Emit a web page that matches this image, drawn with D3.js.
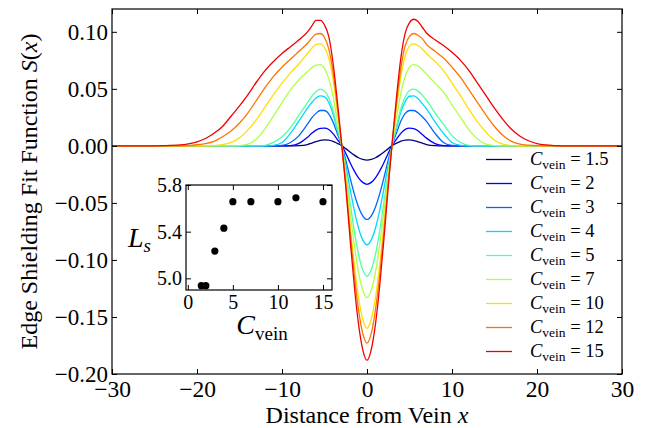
<!DOCTYPE html>
<html><head><meta charset="utf-8">
<script src="https://cdn.jsdelivr.net/npm/d3@7"></script>
<style>
html,body{margin:0;padding:0;background:#fff;}
svg{display:block;}
text{font-family:'Liberation Serif','Times New Roman',serif;fill:#000;}
</style></head>
<body>
<svg id="chart" width="647" height="428"></svg>
<script>
// ---------- data ----------
const xs = [-30,-26,-24,-22,-21,-20,-19,-18,-17,-16,-15,-14,-13,-12,-11,-10,-9,-8,
  -7,-6.5,-6,-5.5,-5,-4.5,-4,-3.5,-3,-2.5,-2,-1.5,-1,-0.5,
  0,
  0.5,1,1.5,2,2.5,3,3.5,4,4.5,5,5.5,6,6.5,7,
  8,9,10,11,12,13,14,15,16,17,18,19,20,21,22,24,26,30];

const cVein = [1.5, 2, 3, 4, 5, 7, 10, 12, 15];

const s1_5 = [0,0,0,0,0,0,0,0,0,0,0,0,0,0,0,0,0,0.0002,
  0.0012,0.0024,0.0037,0.0048,0.0053,0.0051,0.0040,0.0022,0.0003,-0.0024,-0.0054,-0.0081,-0.0104,-0.0119,
  -0.0125,
  -0.0119,-0.0104,-0.0081,-0.0054,-0.0024,0.0004,0.0024,0.0041,0.0051,0.0053,0.0047,0.0036,0.0024,0.0012,
  0.0002,0,0,0,0,0,0,0,0,0,0,0,0,0,0,0,0,0];
const s2 = [0,0,0,0,0,0,0,0,0,0,0,0,0,0,0,0,0.0003,0.0022,
  0.0075,0.0110,0.0138,0.0153,0.0155,0.0143,0.0108,0.0058,0.0006,-0.0064,-0.0145,-0.0219,-0.0280,-0.0320,
  -0.0337,
  -0.0320,-0.0280,-0.0219,-0.0145,-0.0064,0.0008,0.0062,0.0112,0.0145,0.0155,0.0151,0.0132,0.0100,0.0068,
  0.0020,0.0003,0,0,0,0,0,0,0,0,0,0,0,0,0,0,0,0];
const s3 = [0,0,0,0,0,0,0,0,0,0,0,0,0,0,0,0.0004,0.003,0.009,
  0.019,0.0245,0.0285,0.031,0.031,0.028,0.021,0.011,0.001,-0.0123,-0.0277,-0.0419,-0.0535,-0.0613,
  -0.0645,
  -0.0613,-0.0535,-0.0419,-0.0277,-0.0123,0.0015,0.012,0.022,0.0285,0.031,0.031,0.029,0.0255,0.0215,
  0.011,0.003,0.0004,0,0,0,0,0,0,0,0,0,0,0,0,0,0,0];
const s4 = [0,0,0,0,0,0,0,0,0,0,0,0,0,0,0.0005,0.003,0.011,0.022,
  0.033,0.038,0.042,0.0438,0.043,0.038,0.028,0.014,0.001,-0.0165,-0.0373,-0.0564,-0.0720,-0.0824,
  -0.0867,
  -0.0824,-0.0720,-0.0564,-0.0373,-0.0165,0.002,0.016,0.030,0.039,0.0435,0.0438,0.0415,0.037,0.0325,
  0.021,0.011,0.003,0.0005,0,0,0,0,0,0,0,0,0,0,0,0,0,0];
const s5 = [0,0,0,0,0,0,0,0,0,0,0,0,0,0.0005,0.003,0.008,0.016,0.027,
  0.038,0.0435,0.0475,0.0497,0.048,0.042,0.031,0.016,0.001,-0.0217,-0.0491,-0.0743,-0.0949,-0.1086,
  -0.1143,
  -0.1086,-0.0949,-0.0743,-0.0491,-0.0217,0.002,0.018,0.033,0.043,0.0485,0.0497,0.048,0.0445,0.040,
  0.029,0.019,0.009,0.003,0.0005,0,0,0,0,0,0,0,0,0,0,0,0,0];
const s7 = [0,0,0,0,0,0,0,0,0,0,0.0003,0.0015,0.006,0.015,0.026,0.038,0.049,0.058,
  0.065,0.0685,0.0708,0.0712,0.068,0.059,0.044,0.022,0.002,-0.0253,-0.0572,-0.0865,-0.1104,-0.1264,
  -0.133,
  -0.1264,-0.1104,-0.0865,-0.0572,-0.0253,0.003,0.026,0.047,0.061,0.069,0.0712,0.070,0.067,0.063,
  0.055,0.047,0.036,0.025,0.014,0.006,0.0015,0.0003,0,0,0,0,0,0,0,0,0,0];
const s10 = [0,0,0,0,0,0,0,0.0003,0.001,0.003,0.007,0.014,0.023,0.034,0.045,0.055,0.064,0.072,
  0.081,0.0855,0.089,0.0895,0.086,0.077,0.059,0.031,0.002,-0.0304,-0.0688,-0.104,-0.1328,-0.152,
  -0.160,
  -0.152,-0.1328,-0.104,-0.0688,-0.0304,0.004,0.035,0.062,0.079,0.0875,0.0895,0.088,0.085,0.081,
  0.074,0.066,0.055,0.044,0.032,0.021,0.012,0.005,0.0015,0.0003,0,0,0,0,0,0,0,0];
const s12 = [0,0,0,0,0.0003,0.001,0.002,0.004,0.008,0.013,0.020,0.029,0.040,0.051,0.061,0.069,0.076,0.083,
  0.090,0.0945,0.098,0.0985,0.095,0.085,0.065,0.035,0.003,-0.0329,-0.0744,-0.1125,-0.1436,-0.1644,
  -0.173,
  -0.1644,-0.1436,-0.1125,-0.0744,-0.0329,0.005,0.040,0.069,0.088,0.096,0.0985,0.097,0.094,0.089,
  0.083,0.077,0.069,0.060,0.049,0.038,0.027,0.017,0.009,0.004,0.0015,0.0006,0.0002,0,0,0,0,0];
const s15 = [0,0,0.0002,0.0008,0.0018,0.0035,0.0065,0.011,0.017,0.026,0.035,0.045,0.056,0.066,0.074,0.081,0.087,0.093,
  0.100,0.105,0.110,0.110,0.106,0.096,0.073,0.040,0.003,-0.0357,-0.0808,-0.1222,-0.156,-0.1786,
  -0.188,
  -0.1786,-0.156,-0.1222,-0.0808,-0.0357,0.006,0.045,0.078,0.099,0.108,0.111,0.109,0.104,0.099,
  0.093,0.088,0.082,0.075,0.066,0.055,0.044,0.033,0.023,0.0145,0.0085,0.0045,0.002,0.0008,0.0003,0,0,0];

const seriesValues = [s1_5, s2, s3, s4, s5, s7, s10, s12, s15];

const xTicks = [-30, -20, -10, 0, 10, 20, 30];
const yTicks = [-0.20, -0.15, -0.10, -0.05, 0.00, 0.05, 0.10];

// inset data
const insetC = [1.5, 2, 3, 4, 5, 7, 10, 12, 15];
const insetLs = [4.937, 4.937, 5.234, 5.43, 5.657, 5.657, 5.657, 5.69, 5.657];
const insetXTicks = [0, 5, 10, 15];
const insetYTicks = [5.0, 5.4, 5.8];

// ---------- styles ----------
const colors = ["#000080","#0000ff","#0066ff","#00d9ff","#52ffa6","#b0ff47","#ffde00","#ff7300","#f20000"];

// ---------- drawing ----------
const svg = d3.select("#chart");
const M = {left: 112, right: 622, top: 9, bottom: 374};
const x = d3.scaleLinear().domain([-30, 30]).range([M.left, M.right]);
const y = d3.scaleLinear().domain([-0.2, 0.12]).range([M.bottom, M.top]);

const fmtY = d3.format(".2f");
const fmtX = d3.format("d");

function styleAxis(g, size) {
  g.select(".domain").remove();
  g.selectAll(".tick line").attr("stroke", "#000").attr("stroke-width", 1);
  g.selectAll(".tick text").style("font-size", size + "px").attr("fill", "#000");
}

// lines
const line = d3.line().x((d, i) => x(xs[i])).y(d => y(d)).curve(d3.curveMonotoneX);
const plotG = svg.append("g");
seriesValues.forEach((vals, k) => {
  plotG.append("path").datum(vals).attr("d", line)
    .attr("fill", "none").attr("stroke", colors[k]).attr("stroke-width", 1.3);
});

// axes (ticks inward on all sides)
svg.append("g").attr("transform", `translate(0,${M.bottom})`)
  .call(d3.axisBottom(x).tickValues(xTicks).tickFormat(fmtX).tickSizeInner(-5).tickSizeOuter(0).tickPadding(6))
  .call(g => styleAxis(g, 23.5));
svg.append("g").attr("transform", `translate(0,${M.top})`)
  .call(d3.axisTop(x).tickValues(xTicks).tickFormat("").tickSizeInner(-5).tickSizeOuter(0))
  .call(g => styleAxis(g, 23.5));
svg.append("g").attr("transform", `translate(${M.left},0)`)
  .call(d3.axisLeft(y).tickValues(yTicks).tickFormat(fmtY).tickSizeInner(-5).tickSizeOuter(0).tickPadding(4))
  .call(g => styleAxis(g, 23));
svg.append("g").attr("transform", `translate(${M.right},0)`)
  .call(d3.axisRight(y).tickValues(yTicks).tickFormat("").tickSizeInner(-5).tickSizeOuter(0))
  .call(g => styleAxis(g, 23));

svg.append("rect").attr("x", M.left).attr("y", M.top)
  .attr("width", M.right - M.left).attr("height", M.bottom - M.top)
  .attr("fill", "none").attr("stroke", "#000").attr("stroke-width", 1.2);

// axis labels
const xl = svg.append("text").attr("x", (M.left + M.right) / 2).attr("y", 423)
  .attr("text-anchor", "middle").style("font-size", "24px");
xl.append("tspan").text("Distance from Vein ");
xl.append("tspan").style("font-style", "italic").text("x");

const yl = svg.append("text")
  .attr("transform", `translate(37,${(M.top + M.bottom) / 2}) rotate(-90)`)
  .attr("text-anchor", "middle").style("font-size", "24px");
yl.append("tspan").text("Edge Shielding Fit Function ");
yl.append("tspan").style("font-style", "italic").text("S");
yl.append("tspan").text("(");
yl.append("tspan").style("font-style", "italic").text("x");
yl.append("tspan").text(")");

// legend
const legG = svg.append("g");
cVein.forEach((c, k) => {
  const cy = 159.5 + k * 24;
  legG.append("line").attr("x1", 486).attr("x2", 512).attr("y1", cy).attr("y2", cy)
    .attr("stroke", colors[k]).attr("stroke-width", 1.3);
  const t = legG.append("text").attr("x", 530).attr("y", cy + 5).style("font-size", "18.5px");
  t.append("tspan").style("font-style", "italic").text("C");
  t.append("tspan").attr("dy", 4).style("font-size", "13.5px").text("vein");
  t.append("tspan").attr("dy", -4).text(" = " + c);
});

// ---------- inset ----------
const IM = {left: 186, right: 332, top: 185, bottom: 290};
const ix = d3.scaleLinear().domain([-0.2, 16]).range([IM.left, IM.right]);
const iy = d3.scaleLinear().domain([4.9, 5.8]).range([IM.bottom, IM.top]);
const inset = svg.append("g");
inset.append("rect").attr("x", IM.left).attr("y", IM.top)
  .attr("width", IM.right - IM.left).attr("height", IM.bottom - IM.top)
  .attr("fill", "#fff").attr("stroke", "none");
inset.append("g").attr("transform", `translate(0,${IM.bottom})`)
  .call(d3.axisBottom(ix).tickValues(insetXTicks).tickFormat(d3.format("d")).tickSizeInner(-5).tickSizeOuter(0).tickPadding(5))
  .call(g => styleAxis(g, 20));
inset.append("g").attr("transform", `translate(0,${IM.top})`)
  .call(d3.axisTop(ix).tickValues(insetXTicks).tickFormat("").tickSizeInner(-5).tickSizeOuter(0))
  .call(g => styleAxis(g, 20));
inset.append("g").attr("transform", `translate(${IM.left},0)`)
  .call(d3.axisLeft(iy).tickValues(insetYTicks).tickFormat(d3.format(".1f")).tickSizeInner(-5).tickSizeOuter(0).tickPadding(4))
  .call(g => styleAxis(g, 20));
inset.append("g").attr("transform", `translate(${IM.right},0)`)
  .call(d3.axisRight(iy).tickValues(insetYTicks).tickFormat("").tickSizeInner(-5).tickSizeOuter(0))
  .call(g => styleAxis(g, 20));
inset.append("rect").attr("x", IM.left).attr("y", IM.top)
  .attr("width", IM.right - IM.left).attr("height", IM.bottom - IM.top)
  .attr("fill", "none").attr("stroke", "#000").attr("stroke-width", 1.2);
inset.selectAll("circle.pt").data(insetC).enter().append("circle")
  .attr("cx", (d) => ix(d)).attr("cy", (d, i) => iy(insetLs[i])).attr("r", 3.6).attr("fill", "#000");

const ixl = inset.append("text").attr("x", 262).attr("y", 334)
  .attr("text-anchor", "middle").style("font-size", "28px");
ixl.append("tspan").style("font-style", "italic").text("C");
ixl.append("tspan").attr("dy", 6).style("font-size", "19px").text("vein");

const iyl = inset.append("text").attr("x", 128).attr("y", 247).style("font-size", "28px");
iyl.append("tspan").style("font-style", "italic").text("L");
iyl.append("tspan").attr("dy", 5).style("font-size", "19px").style("font-style", "italic").text("s");
</script>
</body></html>
